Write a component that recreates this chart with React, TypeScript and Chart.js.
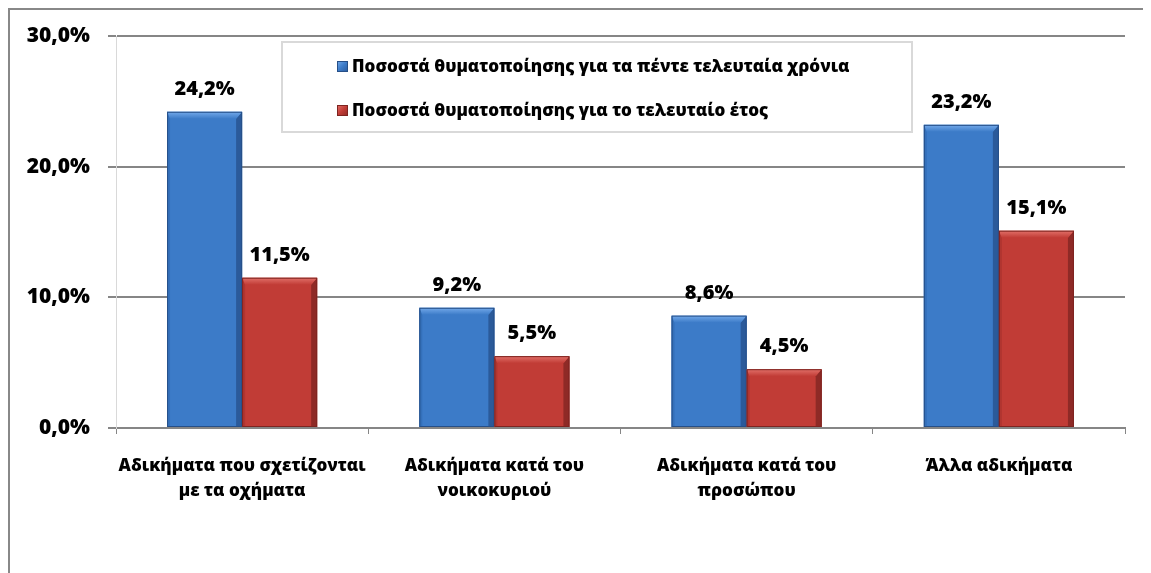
import React, { useEffect, useRef } from "react";
import { Chart, registerables } from "chart.js";

Chart.register(...registerables);

const categories: string[][] = [
  ["Αδικήματα που σχετίζονται", "με τα οχήματα"],
  ["Αδικήματα κατά του", "νοικοκυριού"],
  ["Αδικήματα κατά του", "προσώπου"],
  ["Άλλα αδικήματα"],
];
const seriesNames = [
  "Ποσοστά θυματοποίησης για τα πέντε τελευταία χρόνια",
  "Ποσοστά θυματοποίησης για το τελευταίο έτος",
];
const fiveYears = [24.2, 9.2, 8.6, 23.2];
const lastYear = [11.5, 5.5, 4.5, 15.1];
const yTicks = [0, 10, 20, 30];

const FONT = "'Open Sans', 'DejaVu Sans', sans-serif";
const W = "800";

const palettes = [
  { main: "#3c7bc8", top: "#74aaea", right: "#2b5a9a", left: "#3470ba", edge: "#264f88" },
  { main: "#c13c36", top: "#e2716a", right: "#8e2a26", left: "#b03530", edge: "#7e2420" },
];

const fmt = (v: number) => v.toFixed(1).replace(".", ",") + "%";

const bevelPlugin = {
  id: "bevel",
  afterDatasetsDraw(chart: any) {
    const ctx = chart.ctx;
    chart.data.datasets.forEach((ds: any, di: number) => {
      const meta = chart.getDatasetMeta(di);
      const p = palettes[di];
      meta.data.forEach((bar: any, i: number) => {
        const { x, y, base, width } = bar.getProps(["x", "y", "base", "width"], true);
        const l = x - width / 2;
        const r = x + width / 2;
        const t = y;
        const b = base;
        const bv = Math.min(7, (b - t) / 3);
        ctx.save();
        ctx.fillStyle = p.left;
        ctx.beginPath();
        ctx.moveTo(l, t);
        ctx.lineTo(l + 3, t + bv);
        ctx.lineTo(l + 3, b);
        ctx.lineTo(l, b);
        ctx.closePath();
        ctx.fill();
        ctx.fillStyle = p.right;
        ctx.beginPath();
        ctx.moveTo(r, t);
        ctx.lineTo(r, b);
        ctx.lineTo(r - 6, b);
        ctx.lineTo(r - 6, t + bv);
        ctx.closePath();
        ctx.fill();
        const g = ctx.createLinearGradient(0, t, 0, t + bv);
        g.addColorStop(0, p.top);
        g.addColorStop(1, p.main);
        ctx.fillStyle = g;
        ctx.beginPath();
        ctx.moveTo(l, t);
        ctx.lineTo(r, t);
        ctx.lineTo(r - 6, t + bv);
        ctx.lineTo(l + 3, t + bv);
        ctx.closePath();
        ctx.fill();
        ctx.strokeStyle = p.edge;
        ctx.lineWidth = 1;
        ctx.strokeRect(l + 0.5, t + 0.5, width - 1, b - t - 1);
        ctx.restore();
        ctx.save();
        ctx.fillStyle = "#000";
        ctx.font = `${W} 20px ${FONT}`;
        ctx.textAlign = "center";
        ctx.textBaseline = "alphabetic";
        ctx.fillText(fmt(ds.data[i]), x, t - 17);
        ctx.restore();
      });
    });
  },
};

const legendPlugin = {
  id: "boxLegend",
  afterDraw(chart: any) {
    const ctx = chart.ctx;
    const area = chart.chartArea;
    const bx = area.left + 166;
    const by = area.top + 6;
    const bw = 630;
    const bh = 90;
    ctx.save();
    ctx.fillStyle = "#fff";
    ctx.fillRect(bx, by, bw, bh);
    ctx.strokeStyle = "#d9d9d9";
    ctx.lineWidth = 2;
    ctx.strokeRect(bx, by, bw, bh);
    chart.data.datasets.forEach((ds: any, di: number) => {
      const p = palettes[di];
      const cy = by + 24 + di * 44;
      const sx = bx + 55;
      const g = ctx.createLinearGradient(sx, cy - 5, sx + 11, cy + 6);
      g.addColorStop(0, p.top);
      g.addColorStop(0.5, p.main);
      g.addColorStop(1, p.right);
      ctx.fillStyle = g;
      ctx.fillRect(sx, cy - 5, 11, 11);
      ctx.strokeStyle = p.edge;
      ctx.lineWidth = 1;
      ctx.strokeRect(sx + 0.5, cy - 4.5, 10, 10);
      ctx.fillStyle = "#000";
      ctx.font = `${W} 17px ${FONT}`;
      ctx.textAlign = "left";
      ctx.textBaseline = "middle";
      ctx.fillText(ds.label, sx + 15, cy + 1);
    });
    ctx.restore();
  },
};

export default function App() {
  const ref = useRef<HTMLCanvasElement | null>(null);
  useEffect(() => {
    if (!ref.current) return;
    const chart = new Chart(ref.current, {
      type: "bar",
      data: {
        labels: categories,
        datasets: [
          { label: seriesNames[0], data: fiveYears, backgroundColor: palettes[0].main },
          { label: seriesNames[1], data: lastYear, backgroundColor: palettes[1].main },
        ],
      },
      options: {
        animation: false,
        responsive: false,
        layout: { padding: { top: 26, right: 26, left: 0, bottom: 0 } },
        plugins: { legend: { display: false }, tooltip: { enabled: false } },
        datasets: { bar: { barPercentage: 1, categoryPercentage: 0.595 } },
        scales: {
          x: {
            afterFit: (s: any) => {
              s.height = 145;
            },
            grid: {
              drawOnChartArea: false,
              drawTicks: true,
              tickLength: 6,
              color: "#868686",
              lineWidth: 1,
            },
            border: { display: true, color: "#868686", width: 2 },
            ticks: {
              color: "#000",
              padding: 20,
              font: { family: FONT, size: 17, weight: W, lineHeight: 1.47 },
              maxRotation: 0,
              autoSkip: false,
            },
          },
          y: {
            min: 0,
            max: 30,
            afterFit: (s: any) => {
              s.width = 106;
            },
            afterBuildTicks: (s: any) => {
              s.ticks = yTicks.map((v) => ({ value: v }));
            },
            grid: { color: "#868686", lineWidth: 2, tickLength: 8 },
            border: { display: true, color: "#d9d9d9", width: 1 },
            ticks: {
              color: "#000",
              padding: 18,
              font: { family: FONT, size: 21, weight: W, lineHeight: 0.6 },
              callback: (v: any) => fmt(Number(v)),
            },
          },
        },
      },
      plugins: [bevelPlugin, legendPlugin],
    });
    return () => chart.destroy();
  }, []);
  return (
    <div
      style={{
        width: 1143,
        height: 565,
        borderLeft: "2px solid #888",
        borderTop: "2px solid #888",
        boxSizing: "border-box",
        overflow: "hidden",
      }}
    >
      <canvas ref={ref} width={1141} height={563} style={{ display: "block" }} />
    </div>
  );
}
